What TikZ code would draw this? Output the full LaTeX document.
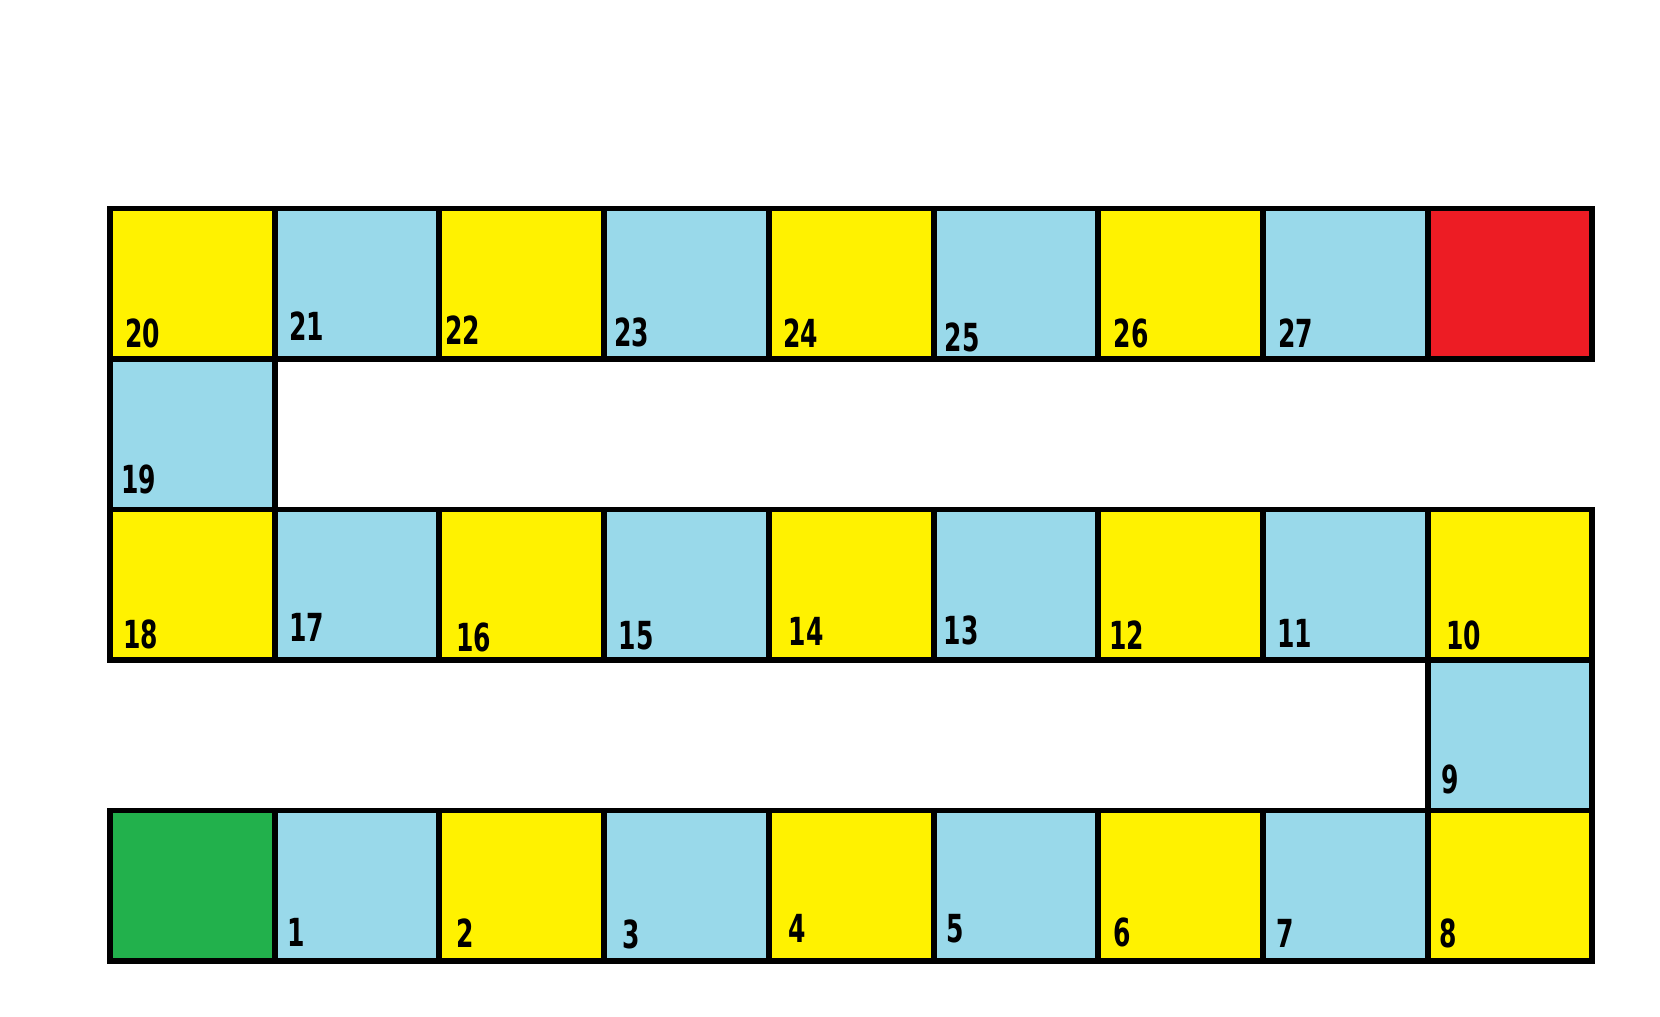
\documentclass[tikz,border=0pt]{standalone}
\usepackage{fontspec}
\newfontfamily\numfont[FakeStretch=0.72]{DejaVu Sans Condensed}
\definecolor{boardyellow}{RGB}{255,242,0}
\definecolor{boardblue}{RGB}{153,217,234}
\definecolor{boardgreen}{RGB}{34,177,76}
\definecolor{boardred}{RGB}{237,28,36}
\tikzset{cell/.style={draw=black,line width=1.7pt},
  num/.style={anchor=base west,inner sep=0pt,font=\numfont\bfseries\fontsize{11}{11}\selectfont}}
\begin{document}
\begin{tikzpicture}
\useasboundingbox (0,0) rectangle (16.6,10.16);
\begin{scope}[shift={(1.10,0.55)},x=1.647cm,y=1.505cm]
\draw[cell,fill=boardgreen] (0,0) rectangle (1,1);
\draw[cell,fill=boardred] (8,4) rectangle (9,5);
\foreach \n/\i/\j/\dx/\dy in {1/1/0/11/14,2/2/0/15/13,3/3/0/17/12,4/4/0/18/17,
  5/5/0/12/17,6/6/0/14/14,7/7/0/12/13,8/8/0/11/13,9/8/1/12/16,
  10/8/2/17/10,11/7/2/13/12,12/6/2/10/10,13/5/2/9/15,14/4/2/18/14,
  15/3/2/13/10,16/2/2/15/8,17/1/2/13/17,18/0/2/12/11,19/0/3/10/15,
  20/0/4/14/11,21/1/4/13/17,22/2/4/5/14,23/3/4/9/12,24/4/4/13/11,
  25/5/4/10/7,26/6/4/14/11,27/7/4/14/11}
{
\ifodd\n \def\cellcol{boardblue}\else \def\cellcol{boardyellow}\fi
\draw[cell,fill=\cellcol] (\i,\j) rectangle ++(1,1);
\node[num,xshift=\dx*0.0106cm,yshift=\dy*0.0106cm] (n\n) at (\i,\j) {\n};
}
\end{scope}
\end{tikzpicture}
\end{document}
